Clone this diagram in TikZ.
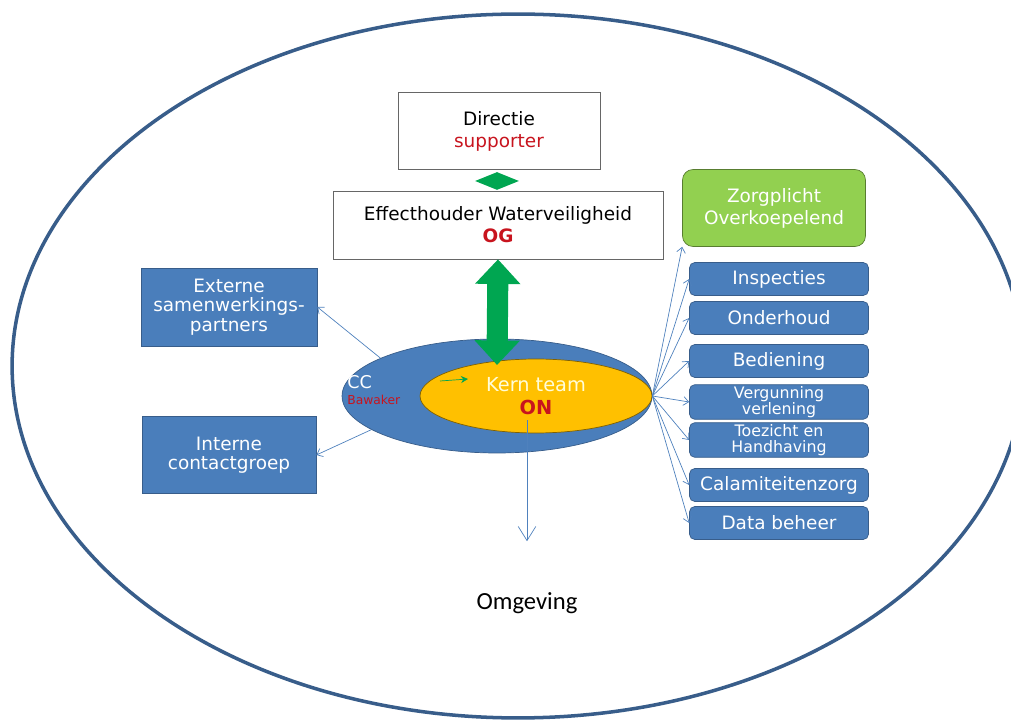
\documentclass[tikz,border=0pt]{standalone}
\usepackage{fontspec}
\setmainfont{DejaVu Sans}
\newfontfamily\omgfont{Carlito}
\usetikzlibrary{shapes.geometric,arrows.meta}
\definecolor{ringblauw}{RGB}{56,93,138}
\definecolor{vakblauw}{RGB}{74,126,187}
\definecolor{randblauw}{RGB}{56,93,138}
\definecolor{lijnblauw}{RGB}{79,129,189}
\definecolor{kerngeel}{RGB}{255,192,0}
\definecolor{pijlgroen}{RGB}{0,166,81}
\definecolor{zorggroen}{RGB}{146,208,80}
\definecolor{rood}{RGB}{200,20,30}

\begin{document}
\begin{tikzpicture}[x=0.02cm,y=-0.02cm]
\tikzset{witblok/.style={draw=black!60, fill=white, align=center, font=\fontsize{10.5}{12.5}\selectfont},
  blauwblok/.style={draw=randblauw, fill=vakblauw, text=white, align=center, font=\fontsize{10.5}{11}\selectfont},
  taak/.style={blauwblok, rounded corners=3pt, minimum width=3.58cm, minimum height=0.66cm, inner sep=1pt},
  lijn/.style={draw=lijnblauw, -{Straight Barb[length=3pt,width=5pt]}}}
\clip (0,0) rectangle (1011,722);
\draw[ringblauw, line width=2pt] (518,366) ellipse [x radius=10.12cm, y radius=7.04cm];
% top
\node[witblok, minimum width=4.04cm, minimum height=1.54cm] (Dir) at (499,131) {Directie\\\textcolor{rood}{supporter}};
\node[witblok, minimum width=6.6cm, minimum height=1.36cm] (Eff) at (498,225) {Effecthouder Waterveiligheid\\\textcolor{rood}{\textbf{OG}}};
\node[diamond, fill=pijlgroen, minimum width=0.88cm, minimum height=0.36cm, inner sep=0pt] (Ruit) at (497,181) {};
% core
\node[ellipse, draw=randblauw, fill=vakblauw, minimum width=6.2cm, minimum height=2.28cm] (CC) at (497,396) {};
\node[ellipse, draw=black!50!kerngeel, fill=kerngeel, minimum width=4.64cm, minimum height=1.48cm, align=center, font=\fontsize{11}{13.5}\selectfont] (Kern) at (536,396) {\textcolor{yellow!15}{Kern team}\\\textcolor{rood}{\textbf{ON}}};
\node[anchor=west, align=left, inner sep=0pt, text=white, font=\fontsize{10}{10}\selectfont] (CClabel) at (347,390) {CC\\[-1pt]\textcolor{rood}{\fontsize{7}{7}\selectfont Bawaker}};
\draw[pijlgroen, line width=12pt, {Triangle[width=25pt,length=14pt]}-{Triangle[width=25pt,length=14pt]}] (Eff.south) -- (497,365);
\coordinate (G1) at (440,381);
\coordinate (G2) at (468,379);
\draw[pijlgroen, -{Stealth[length=4pt,width=4pt]}] (G1) -- (G2);
% left
\node[blauwblok, minimum width=3.52cm, minimum height=1.56cm] (Ext) at (229,307) {Externe\\samenwerkings-\\partners};
\node[blauwblok, minimum width=3.48cm, minimum height=1.54cm] (Int) at (229,455) {Interne\\contactgroep};
\draw[lijn] (CC.162) -- (Ext.east);
\draw[lijn] (CC.195) -- (Int.east);
% right
\node[draw=black!40!zorggroen, fill=zorggroen, rounded corners=6pt, text=white, align=center, minimum width=3.66cm, minimum height=1.54cm, font=\fontsize{10.5}{12.5}\selectfont] (Zorg) at (774,208) {Zorgplicht\\Overkoepelend};
\node[taak] (Insp) at (779,279) {Inspecties};
\node[taak] (Onder) at (779,318) {Onderhoud};
\node[taak] (Bed) at (779,361) {Bediening};
\node[taak, font=\fontsize{9}{9}\selectfont] (Verg) at (779,402) {Vergunning\\verlening};
\node[taak, font=\fontsize{9}{9}\selectfont] (Toez) at (779,440) {Toezicht en\\Handhaving};
\node[taak] (Cala) at (779,485) {Calamiteitenzorg};
\node[taak] (Data) at (779,523) {Data beheer};
\draw[lijn] (Kern.east) -- (Zorg.south west);
\foreach \t in {Insp,Onder,Bed,Verg,Toez,Cala,Data}
  \draw[lijn] (Kern.east) -- (\t.west);
% bottom
\node[font=\omgfont\fontsize{14}{16}\selectfont] (Omg) at (527,603) {Omgeving};
\draw[lijnblauw, -{Straight Barb[length=8pt,width=10pt]}, shorten <=-0.26cm, shorten >=0.9cm] (Omg.north |- Kern.south) -- (Omg.north);
\end{tikzpicture}
\end{document}
